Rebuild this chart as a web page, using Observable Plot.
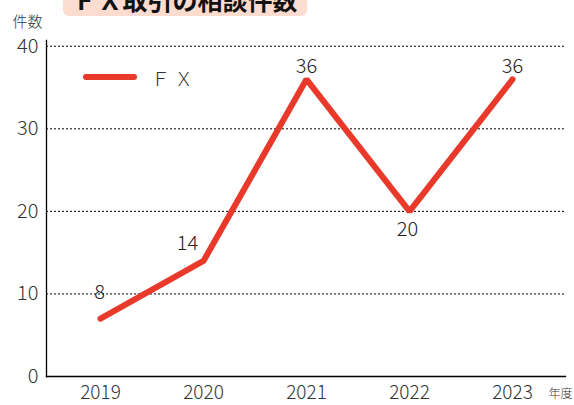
<!DOCTYPE html>
<html><head><meta charset="utf-8">
<script src="https://cdn.jsdelivr.net/npm/d3@7"></script>
<script src="https://cdn.jsdelivr.net/npm/@observablehq/plot@0.6"></script>
<style>
body{margin:0;background:#fff;font-family:"Noto Sans CJK JP","Noto Sans",sans-serif;}
#wrap{position:relative;width:574px;height:405px;overflow:hidden;}
#title{position:absolute;left:63px;top:0;width:244px;height:16px;background:#fcdccf;border-radius:0 0 6px 6px;overflow:hidden;}
#title span{position:absolute;left:0;right:0;top:-14px;text-align:center;font-size:25px;line-height:26px;font-weight:700;color:#111;white-space:nowrap;}
#legend{position:absolute;left:83px;top:66px;display:flex;align-items:center;height:22px;}
#legend .sw{width:54px;height:6px;border-radius:3px;background:#e8392a;}
#legend .lb{margin-left:14px;font-size:19px;color:#333;font-weight:300;}
#chart{position:absolute;left:0;top:0;}
</style></head>
<body><div id="wrap"><div id="chart"></div>
<div id="title"><span>ＦＸ取引の相談件数</span></div>
<div id="legend"><div class="sw"></div><div class="lb">Ｆ Ｘ</div></div>
</div>
<script>
const years = ["2019","2020","2021","2022","2023"];
const fxValues = [7, 14, 36, 20, 36];
const fxLabels = ["8", "14", "36", "20", "36"];
const yTicks = [0, 10, 20, 30, 40];
const gridTicks = [10, 20, 30, 40];
const seriesName = "Ｆ Ｘ";

const data = years.map((y, i) => ({year: y, value: fxValues[i], label: fxLabels[i]}));
const color = "#e8392a";
const font = "Noto Sans CJK JP";

// label offsets chosen per point (above / left-above / below)
const off = [
  {dx: -1, dy: -26},
  {dx: -16, dy: -17},
  {dx: 0, dy: -13},
  {dx: -2, dy: 18},
  {dx: 0, dy: -13}
];

const chart = Plot.plot({
  width: 574, height: 405,
  marginLeft: 46, marginRight: 9, marginTop: 40, marginBottom: 29,
  style: {fontFamily: font, background: "transparent", fontWeight: 300},
  x: {type: "point", domain: years, padding: 0.5, label: null},
  y: {domain: [0, 40.7], ticks: yTicks, label: null},
  marks: [
    Plot.ruleY(gridTicks, {stroke: "#000", strokeWidth: 1, strokeDasharray: "2,2"}),
    Plot.frame({anchor: "left", stroke: "#000", strokeWidth: 1.3}),
    Plot.frame({anchor: "bottom", stroke: "#000", strokeWidth: 1.3}),
    Plot.axisY({ticks: yTicks, tickSize: 0, tickPadding: 8, fontSize: 20, fill: "#333", label: null}),
    Plot.axisX({tickSize: 0, tickPadding: 9, fontSize: 19, fill: "#333", label: null}),
    Plot.line(data, {x: "year", y: "value", stroke: color, strokeWidth: 6, strokeLinecap: "round", strokeLinejoin: "miter"}),
    ...data.map((d, i) => Plot.text([d], {x: "year", y: "value", text: "label", dx: off[i].dx, dy: off[i].dy, fontSize: 20, fill: "#222"})),
    Plot.text(["年度"], {frameAnchor: "bottom-right", dx: 7, dy: 21, textAnchor: "end", fontSize: 12, fill: "#333"}),
    Plot.text(["件数"], {frameAnchor: "top-left", dx: -19, dy: -24, textAnchor: "middle", fontSize: 15, fill: "#333"})
  ]
});
document.getElementById("chart").appendChild(chart);
</script></body></html>
